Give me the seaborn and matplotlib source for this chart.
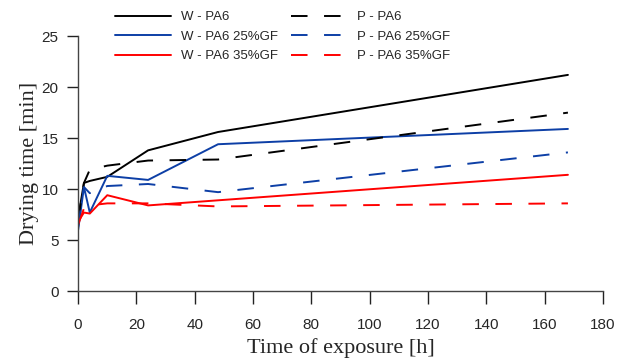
import numpy as np
import pandas as pd
import seaborn as sns
import matplotlib.pyplot as plt

# time of exposure [h]
hours = [0, 2, 4, 10, 24, 48, 168]

# drying time [min], W = solid lines, P = dashed lines
w_pa6 = [7.2, 10.6, 10.8, 11.2, 13.8, 15.6, 21.2]
w_pa6_25 = [6.0, 10.2, 7.7, 11.3, 10.9, 14.4, 15.9]
w_pa6_35 = [6.8, 7.7, 7.6, 9.4, 8.4, 8.9, 11.4]

p_pa6 = [7.0, 10.6, 11.9, 12.3, 12.8, 12.9, 17.5]
p_pa6_25 = [6.3, 10.2, 9.6, 10.3, 10.5, 9.7, 13.6]
p_pa6_35 = [6.5, 8.1, 8.4, 8.6, 8.6, 8.3, 8.6]

labels = ["W - PA6", "W - PA6 25%GF", "W - PA6 35%GF",
          "P - PA6", "P - PA6 25%GF", "P - PA6 35%GF"]
series = [w_pa6, w_pa6_25, w_pa6_35, p_pa6, p_pa6_25, p_pa6_35]
colors = ["#000000", "#0d3fa6", "#ff0000"] * 2

sns.set_style("ticks")
plt.rcParams['font.family'] = ['Liberation Sans', 'DejaVu Sans']

fig = plt.figure(figsize=(6.3, 3.58), dpi=100)
ax = fig.add_axes([0.124, 0.187, 0.833, 0.712])

for i, (lab, vals) in enumerate(zip(labels, series)):
    df = pd.DataFrame({"h": hours, "t": vals})
    sns.lineplot(data=df, x="h", y="t", ax=ax, color=colors[i],
                 linewidth=1.4, label=lab)
    if i >= 3:
        ax.lines[-1].set_dashes((8.5, 8.5))

ax.set_xlim(0, 180)
ax.set_ylim(0, 25)
ax.set_xticks(np.arange(0, 181, 20))
ax.set_yticks(np.arange(0, 26, 5))
sns.despine(ax=ax)
for s in ['left', 'bottom']:
    ax.spines[s].set_color('#444444')
    ax.spines[s].set_linewidth(1.0)
ax.tick_params(axis='x', direction='out', length=9.5, width=1, color='#222222',
               labelsize=11, pad=10)
ax.tick_params(axis='y', direction='out', length=8, width=1, color='#222222',
               labelsize=11, pad=6)

ax.set_xlabel("Time of exposure [h]", family='Liberation Serif', fontsize=16, labelpad=4)
ax.set_ylabel("Drying time [min]", family='Liberation Serif', fontsize=16, labelpad=2)

ax.legend(ncol=2, frameon=False, fontsize=9.5, handlelength=4.2,
          handletextpad=0.8, columnspacing=1.0, labelspacing=0.55,
          loc='upper left', bbox_to_anchor=(0.048, 1.145))

fig.savefig("out.png", dpi=100)
